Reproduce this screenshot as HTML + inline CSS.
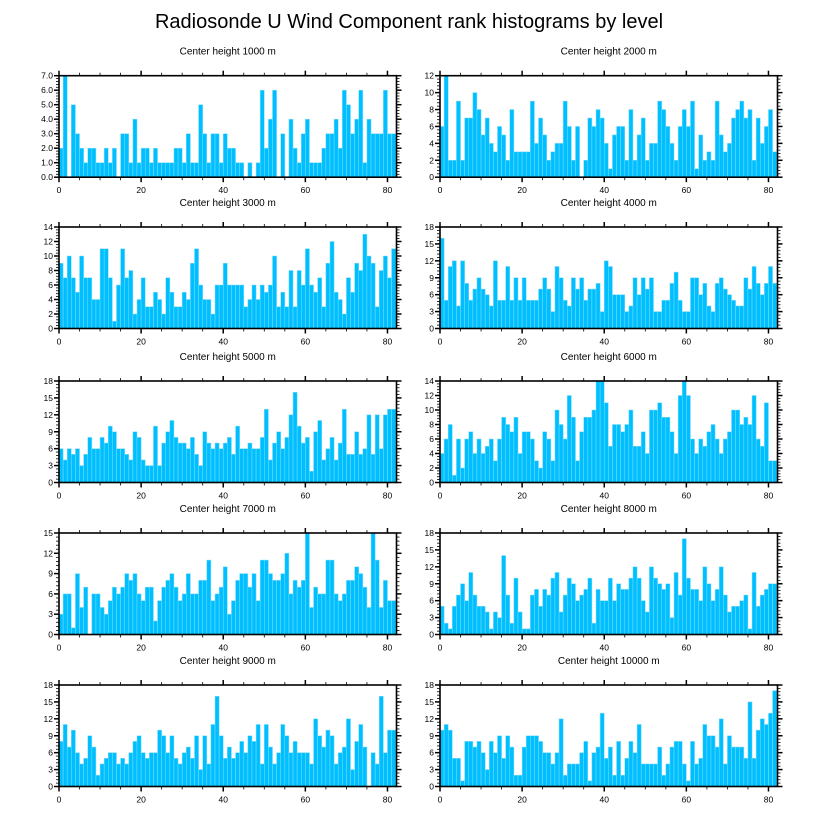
<!DOCTYPE html>
<html><head><meta charset="utf-8"><style>
html,body{margin:0;padding:0;background:#fff;}
svg{display:block;font-family:"Liberation Sans",sans-serif;}
</style></head><body>
<svg id="chart" width="818" height="824" viewBox="0 0 818 824" xmlns="http://www.w3.org/2000/svg">
<text x="409" y="28" text-anchor="middle" font-size="20">Radiosonde U Wind Component rank histograms by level</text>
</svg>
<script>
const levels = ["1000","2000","3000","4000","5000","6000","7000","8000","9000","10000"];
const yMaxes = [7,12,14,18,18,14,15,18,18,18];
const ySteps = [1,2,2,3,3,2,3,3,3,3];
const xTicks = [0,20,40,60,80];
const counts1000 = [2,7,0,5,3,2,1,2,2,1,1,2,1,2,0,3,3,1,4,1,2,2,1,2,1,1,1,1,2,2,1,3,1,1,5,3,1,3,3,1,3,2,2,1,1,0,1,0,1,6,2,4,6,0,3,0,4,2,1,3,4,1,1,1,2,3,3,4,2,6,5,3,4,6,1,4,3,3,3,6,3,3];
const counts2000 = [6,12,2,2,9,2,7,7,10,8,5,7,4,3,6,5,2,8,3,3,3,3,9,4,7,5,2,3,4,4,9,6,2,6,0,2,7,6,8,7,4,1,5,6,6,2,8,2,5,7,2,4,4,9,8,6,4,2,6,8,6,9,1,5,2,3,2,9,5,3,4,7,8,9,7,8,2,7,4,6,8,3];
const counts3000 = [9,7,10,7,5,10,7,7,4,4,11,11,7,1,6,11,7,8,2,4,7,3,3,5,4,2,7,5,3,3,5,4,9,11,6,4,4,2,6,6,9,6,6,6,6,3,4,6,4,6,5,6,10,3,5,3,8,3,8,6,11,6,5,7,3,9,12,5,4,2,7,5,9,8,13,10,9,3,8,10,7,11];
const counts4000 = [16,5,11,12,4,12,8,5,7,9,7,6,4,12,5,5,11,5,9,5,9,5,5,5,7,9,7,3,11,9,5,4,9,7,9,5,7,7,8,3,12,11,6,6,6,3,4,9,6,9,7,9,3,3,5,5,8,10,5,3,3,9,9,6,8,4,3,8,9,7,6,5,4,4,9,7,11,8,6,8,11,8];
const counts5000 = [6,4,6,5,6,3,5,8,6,6,8,7,10,9,6,6,5,4,9,8,4,3,3,10,3,7,9,11,8,7,7,6,8,5,3,9,7,6,7,6,7,8,5,10,6,6,7,6,6,8,13,4,7,9,6,8,12,16,10,7,8,2,9,11,4,6,8,4,7,13,5,5,9,5,6,12,5,12,6,12,13,13];
const counts6000 = [4,6,8,1,6,2,6,7,4,6,4,5,6,3,6,9,8,7,9,4,7,7,6,3,2,7,6,3,10,8,6,12,9,3,7,9,9,10,14,14,11,5,8,8,7,8,10,5,5,7,4,10,10,11,9,9,7,4,12,14,12,6,4,6,5,7,8,6,4,6,7,10,10,8,9,8,12,6,5,11,3,3];
const counts7000 = [3,6,6,1,9,4,7,0,6,6,4,3,5,7,6,7,9,8,9,6,5,7,7,2,5,7,8,9,7,5,6,9,6,6,8,8,11,5,6,7,10,3,5,8,9,9,7,9,5,11,11,9,8,8,9,12,6,8,7,8,15,4,7,6,6,11,11,6,5,6,8,8,10,9,7,4,15,11,4,8,5,5];
const counts8000 = [5,2,1,5,7,9,6,11,7,5,5,4,1,4,3,14,7,2,10,4,1,1,7,8,5,8,7,10,11,4,7,10,9,6,7,8,10,2,8,6,6,10,6,9,8,8,10,12,10,6,4,12,10,9,8,9,3,11,7,17,10,8,8,6,12,9,6,8,12,7,4,5,5,6,7,1,11,5,7,8,9,9];
const counts9000 = [8,11,7,10,6,4,5,9,7,2,4,5,6,6,4,5,4,6,8,9,6,5,6,6,10,9,6,9,5,4,6,7,5,9,3,9,4,11,16,9,5,7,5,6,8,6,9,8,11,4,11,7,4,6,11,9,6,8,6,6,6,4,12,9,7,10,9,4,6,7,12,3,8,11,7,0,6,4,16,6,10,10];
const counts10000 = [10,11,10,5,5,1,8,8,7,8,6,3,8,6,9,5,9,7,2,2,7,9,9,9,8,6,6,4,6,12,2,4,4,4,6,8,1,6,7,13,5,7,2,8,2,5,8,6,11,4,4,4,4,7,2,4,7,8,8,4,1,8,4,5,11,9,9,7,12,4,9,7,7,7,5,15,5,10,12,11,13,17];
const allCounts = [counts1000,counts2000,counts3000,counts4000,counts5000,counts6000,counts7000,counts8000,counts9000,counts10000];

const NS = "http://www.w3.org/2000/svg";
const svg = document.getElementById("chart");
function mk(tag, attrs, parent){const e=document.createElementNS(NS,tag);for(const k in attrs)e.setAttribute(k,attrs[k]);(parent||svg).appendChild(e);return e;}

const XMAX = 82.2;
const PW = 337.5, PH = 101.5;
const lefts = [59, 440];
const tops = [75.7, 227, 381, 533, 685];

levels.forEach((lev, p) => {
  const col = p % 2, row = Math.floor(p / 2);
  const L = lefts[col], T = tops[row];
  const data = allCounts[p], ymax = yMaxes[p], step = ySteps[p];
  const xs = v => L + v / XMAX * PW;
  const ys = v => T + PH - v / ymax * PH;
  const g = mk("g", {});
  
  
  const title = mk("text", {x: L + PW / 2, y: T - 21, "text-anchor": "middle", "font-size": "10"}, g);
  
  
  title.textContent = "Center height " + lev + " m";
  data.forEach((v, i) => {
    if (v <= 0) return;
    const r = mk("rect", {x: xs(i), y: ys(v), width: xs(i + 1) - xs(i), height: ys(0) - ys(v), fill: "#00bfff", stroke: "#7fdcff", "stroke-width": "0.5"}, g);
    
    
  });
  const fr = mk("rect", {x: L, y: T, width: PW, height: PH, fill: "none", stroke: "#000", "stroke-width": "1.6"}, g);
  
  
  for (let v = 0; v <= 80; v += 5) {
    const major = v % 20 === 0;
    const len = major ? 5 : 3;
    mk("line", {x1: xs(v), x2: xs(v), y1: T + PH, y2: T + PH + len, stroke: "#000", "stroke-width": major ? 1.5 : 0.8}, g);
    mk("line", {x1: xs(v), x2: xs(v), y1: T, y2: T - len, stroke: "#000", "stroke-width": major ? 1.5 : 0.8}, g);
  }
  xTicks.forEach(v => {
    const t = mk("text", {x: xs(v), y: T + PH + 16, "text-anchor": "middle", "font-size": "8.5"}, g);
    
    
    t.textContent = v;
  });
  const minor = step / 5;
  for (let k = 0; k * minor <= ymax + 1e-9; k++) {
    const v = k * minor, major = k % 5 === 0, len = major ? 5 : 3;
    mk("line", {x1: L, x2: L - len, y1: ys(v), y2: ys(v), stroke: "#000", "stroke-width": major ? 1.5 : 0.8}, g);
    mk("line", {x1: L + PW, x2: L + PW + len, y1: ys(v), y2: ys(v), stroke: "#000", "stroke-width": major ? 1.5 : 0.8}, g);
  }
  for (let v = 0; v <= ymax + 1e-9; v += step) {
    const t = mk("text", {x: L - 6, y: ys(v) + 3, "text-anchor": "end", "font-size": "8.5"}, g);
    
    
    t.textContent = p === 0 ? v.toFixed(1) : v;
  }
});
</script>
</body></html>
